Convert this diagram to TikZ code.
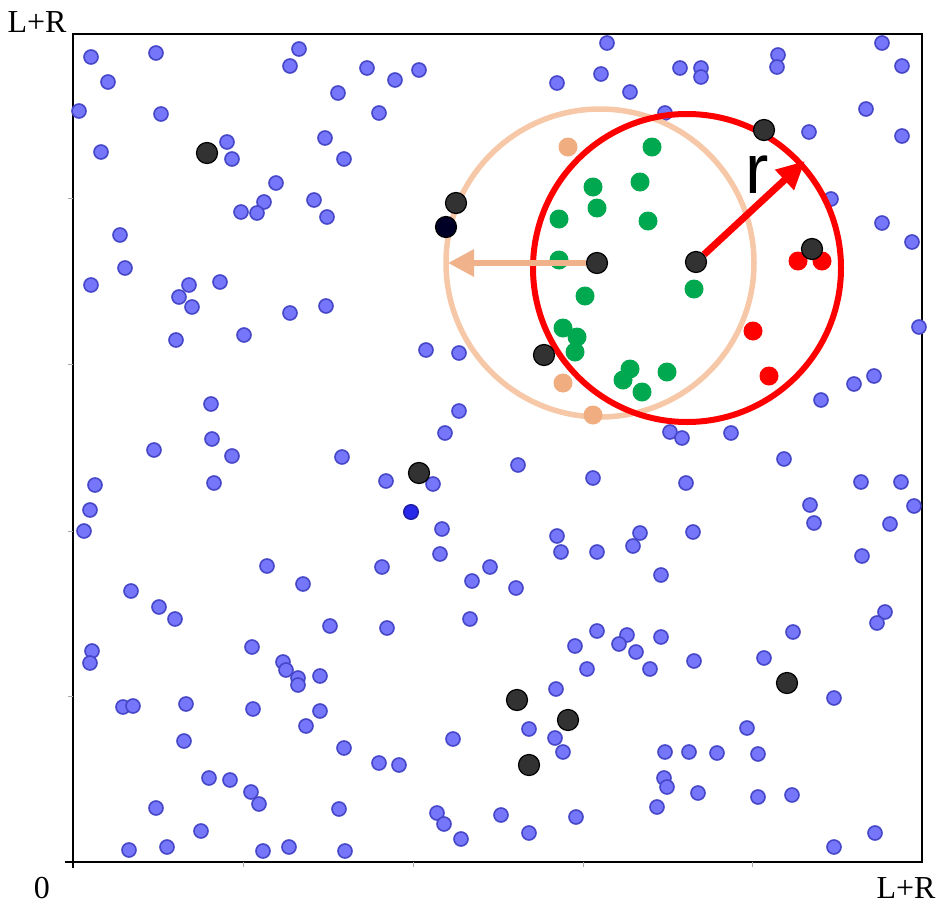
\documentclass[tikz,border=0pt]{standalone}
\usepackage{fontspec}
\setmainfont{Liberation Serif}
\newfontfamily\rfont{Liberation Sans}
\usetikzlibrary{arrows.meta}
\definecolor{bluefill}{RGB}{118,118,250}
\definecolor{blueedge}{RGB}{70,70,200}
\definecolor{bluedark}{RGB}{40,40,235}
\definecolor{bluedarkedge}{RGB}{30,30,170}
\definecolor{ringpeach}{RGB}{247,200,168}
\definecolor{dotpeach}{RGB}{240,174,128}
\definecolor{arrowpeach}{RGB}{240,178,138}
\definecolor{dotgreen}{RGB}{0,168,80}
\definecolor{dotblack}{RGB}{50,50,50}
\definecolor{tickgray}{RGB}{170,170,170}
\tikzset{
  bluedot/.style={circle,inner sep=0pt,minimum size=14pt,fill=bluefill,draw=blueedge,line width=1.6pt},
  blackdot/.style={circle,inner sep=0pt,minimum size=21pt,fill=dotblack,draw=black,line width=1.2pt},
  colordot/.style={circle,inner sep=0pt,minimum size=19pt,fill=#1,draw=none},
  lbl/.style={inner sep=0pt,anchor=base,font=\fontsize{32}{38}\selectfont},
}
\begin{document}
\begin{tikzpicture}[x=1pt,y=-1pt]
\useasboundingbox[fill=white] (0,0) rectangle (946,921);
% frame
\draw[line width=2.5pt,black] (73,34) rectangle (922,862);
\foreach \yy in {198,364,531,696} \draw[tickgray,line width=1pt] (68,\yy) -- (73,\yy);
\foreach \xx in {243,413,583,752} \draw[tickgray,line width=1pt] (\xx,862) -- (\xx,867);
\draw[line width=1.5pt] (65,862) -- (73,862) -- (73,868);
% labels
\node[lbl] (ltop) at (37,32) {L+R};
\node[lbl] (lzero) at (42,898) {0};
\node[lbl] (lright) at (906,898) {L+R};
% blue dots
\foreach \px/\py [count=\i] in {
91/57,156/53,290/66,299/49,108/82,79/111,161/114,101/152,227/142,232/159,276/183,264/202,241/212,257/213,120/235,125/268,91/285,189/285,220/282,179/297,192/307,
367/68,395/80,419/70,338/93,379/113,325/138,344/159,314/200,327/217,326/306,290/313,
607/43,557/83,601/74,630/92,680/68,701/68,701/77,665/113,
778/55,777/67,882/43,902/66,866/109,902/136,809/132,831/199,882/223,912/242,
176/340,244/335,211/404,212/439,232/456,154/450,214/483,95/485,90/510,84/531,267/566,
426/350,459/353,459/411,445/433,342/457,433/484,386/481,442/529,440/554,382/567,490/567,472/581,303/584,
670/432,682/438,518/465,593/478,686/483,557/536,561/552,597/552,640/533,633/546,693/532,661/575,516/588,
919/327,854/384,874/376,821/400,731/433,784/459,861/482,901/482,914/506,810/505,814/523,890/524,862/556,
131/591,159/607,175/619,92/651,90/663,252/647,283/662,286/670,123/707,133/706,186/704,253/709,184/741,209/778,230/780,251/792,259/804,156/808,201/831,129/850,167/847,263/851,289/847,
330/626,387/628,470/619,298/678,298/685,320/676,320/711,306/726,344/748,379/763,399/765,453/739,339/809,437/813,444/824,461/839,345/851,501/815,
597/631,627/635,619/644,661/637,636/652,650/669,575/646,587/669,694/661,556/689,529/729,555/738,563/752,665/752,689/752,717/753,664/778,667/787,698/793,657/807,576/817,529/833,
885/612,877/623,793/632,764/658,834/698,747/728,758/754,758/797,792/795,875/833,834/847}
  \node[bluedot] (b\i) at (\px,\py) {};
\filldraw[fill=bluedark,draw=bluedarkedge,line width=1.6pt] (411,512) circle[radius=7.2pt];
% circles
\draw[line width=5.5pt,ringpeach] (600,263) circle[radius=154pt];
\draw[line width=6pt,red] (687,268) circle[radius=154pt];
% green dots
\foreach \px/\py [count=\i] in {652/147,593/187,640/182,597/208,559/219,648/221,559/260,585/296,694/289,563/328,577/337,575/352,630/369,623/380,642/392,667/372}
  \node[colordot=dotgreen] (g\i) at (\px,\py) {};
% red dots
\foreach \px/\py [count=\i] in {798/261,822/261,753/331,769/376}
  \node[colordot=red] (r\i) at (\px,\py) {};
% peach dots
\foreach \px/\py [count=\i] in {568/147,563/383,593/415}
  \node[colordot=dotpeach] (p\i) at (\px,\py) {};
% black dots
\foreach \px/\py [count=\i] in {207/153,456/203,764/130,812/249,544/355,419/473,517/700,568/720,529/765,787/683}
  \node[blackdot] (k\i) at (\px,\py) {};
\node[blackdot,fill=black!85!blue] (knavy) at (446,227) {};
\node[blackdot] (cpeach) at (597,263) {};
\node[blackdot] (cred) at (696,262) {};
% arrows
\coordinate (peachend) at (448,263);
\coordinate (redend) at (805,161);
\draw[arrowpeach,line width=6pt,-{Triangle[length=26pt,width=26pt]}] (cpeach) -- (peachend);
\draw[red,line width=7pt,-{Triangle[length=28pt,width=26pt]}] (cred) -- (redend);
% r label
\node[inner sep=0pt,anchor=base,font=\rfont\fontsize{70}{80}\selectfont] (rlbl) at (757,193) {r};
\end{tikzpicture}
\end{document}
